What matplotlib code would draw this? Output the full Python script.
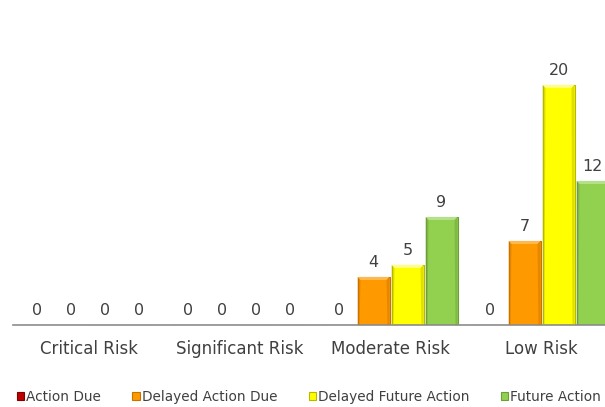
import matplotlib
matplotlib.use("Agg")
import matplotlib.pyplot as plt
from matplotlib.patches import Polygon, Patch
import numpy as np

categories = ["Critical Risk", "Significant Risk", "Moderate Risk", "Low Risk"]
series_names = ["Action Due", "Delayed Action Due", "Delayed Future Action", "Future Action"]
action_due = [0, 0, 0, 0]
delayed_action_due = [0, 0, 4, 7]
delayed_future_action = [0, 0, 5, 20]
future_action = [0, 0, 9, 12]

series_values = [action_due, delayed_action_due, delayed_future_action, future_action]
fill_colors = ["#C00000", "#FF9900", "#FFFF00", "#92D050"]
edge_colors = ["#800000", "#C87300", "#B8B800", "#6E9E3A"]
light_colors = ["#E04040", "#FFB84D", "#FFFF80", "#B5E08A"]

W, H = 605, 407
fig = plt.figure(figsize=(W / 100, H / 100), dpi=100)
ax_left, ax_bottom = 13 / W, 82 / H
ax_w, ax_h = 604 / W, 300 / H
ax = fig.add_axes([ax_left, ax_bottom, ax_w, ax_h])

ymax = 25
ax.set_xlim(-0.5, len(categories) - 0.5)
ax.set_ylim(0, ymax)

px_x = 604 / len(categories)   # pixels per category unit
px_y = 300 / ymax              # pixels per value unit

x = np.arange(len(categories))
step = 34 / px_x
bar_w = 32 / px_x
offsets = (np.arange(4) - 1.5) * step

text_color = "#404040"
for vals, off, fc, ec, lc in zip(series_values, offsets, fill_colors, edge_colors, light_colors):
    bars = ax.bar(x + off, vals, bar_w, color=fc, edgecolor=ec, linewidth=0.8, zorder=2)
    for b, v in zip(bars, vals):
        if v > 0:
            x0, x1 = b.get_x(), b.get_x() + b.get_width()
            top = b.get_height()
            bx, by = 3 / px_x, 3 / px_y
            # lighter top bevel
            ax.add_patch(Polygon([[x0, top], [x1, top], [x1 - bx, top - by], [x0 + bx, top - by]],
                                 closed=True, facecolor=lc, edgecolor="none", zorder=3))
            # darker side bevels
            sx = 2 / px_x
            ax.add_patch(Polygon([[x0, 0], [x0, top], [x0 + bx, top - by], [x0 + sx, 0]],
                                 closed=True, facecolor=ec, edgecolor="none", alpha=0.45, zorder=3))
            ax.add_patch(Polygon([[x1, 0], [x1, top], [x1 - bx, top - by], [x1 - sx, 0]],
                                 closed=True, facecolor=ec, edgecolor="none", alpha=0.45, zorder=3))
        ax.annotate(f"{v}", (b.get_x() + b.get_width() / 2, v), xytext=(0, 5),
                    textcoords="offset points", ha="center", va="bottom",
                    fontsize=11.5, color=text_color)

for side in ["top", "right", "left"]:
    ax.spines[side].set_visible(False)
ax.spines["bottom"].set_color("#8C8C8C")
ax.spines["bottom"].set_linewidth(1.2)
ax.set_yticks([])
ax.set_xticks(x)
ax.set_xticklabels(categories, fontsize=12, color=text_color)
ax.tick_params(axis="x", length=0, pad=11)

handles = [Patch(facecolor=fc, edgecolor=ec, linewidth=0.8) for fc, ec in zip(fill_colors, edge_colors)]
fig.legend(handles, series_names, loc="center left", bbox_to_anchor=(7 / W, 10 / H), ncol=4,
           frameon=False, fontsize=9.8, handlelength=0.55, handleheight=0.55,
           handletextpad=0.15, columnspacing=2.3, labelcolor=text_color,
           borderpad=0.2)

fig.savefig("out.png", dpi=100)
